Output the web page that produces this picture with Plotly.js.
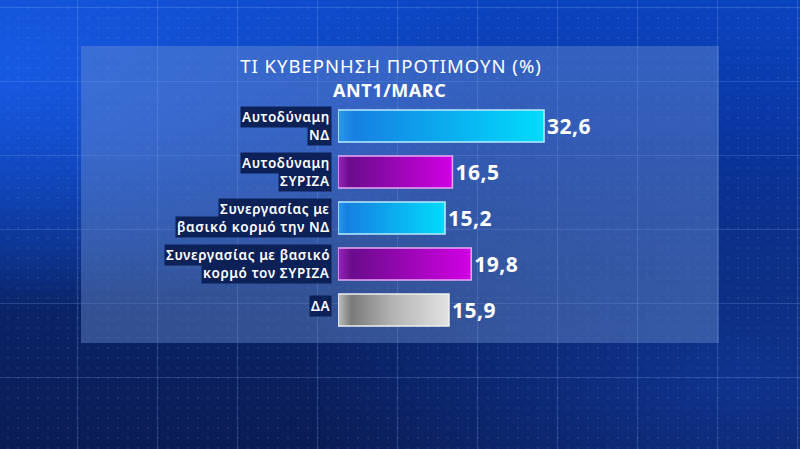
<!DOCTYPE html>
<html>
<head>
<meta charset="utf-8">
<script src="https://cdn.plot.ly/plotly-3.0.1.min.js"></script>
<style>
html,body{margin:0;padding:0;width:800px;height:449px;overflow:hidden;}
body{
  background-color:#0a2a80;
  background-image:
    linear-gradient(90deg, rgba(150,190,255,0.20) 1px, transparent 1px),
    linear-gradient(180deg, rgba(150,190,255,0.20) 1px, transparent 1px),
    radial-gradient(circle, rgba(170,200,255,0.10) 1px, transparent 1.6px),
    radial-gradient(ellipse at 0% 15%, rgba(25,95,235,0.85) 0%, rgba(25,95,235,0) 45%),
    radial-gradient(ellipse at 92% 85%, rgba(20,70,190,0.50) 0%, rgba(20,70,190,0) 42%),
    linear-gradient(180deg, #0b44c0 0%, #0a36a2 30%, #0a2468 68%, #0a1c54 100%);
  background-size: 80px 100%, 100% 74px, 10px 10px, 100% 100%, 100% 100%, 100% 100%;
  background-position: 77px 0, 0 7px, 3px 3px, 0 0, 0 0, 0 0;
}
#chart{width:800px;height:449px;}
.gtitle{letter-spacing:1.0px;}
.annotation-text{letter-spacing:0.6px;}
.bartext{letter-spacing:0.5px;}
</style>
</head>
<body>
<div id="chart"></div>
<script>
// ---- data ----
const categories = [
  "Αυτοδύναμη<br>ΝΔ",
  "Αυτοδύναμη<br>ΣΥΡΙΖΑ",
  "Συνεργασίας με<br>βασικό κορμό την ΝΔ",
  "Συνεργασίας με βασικό<br>κορμό τον ΣΥΡΙΖΑ",
  "ΔΑ"
];
const values = [32.6, 16.5, 15.2, 19.8, 15.9];
const valueLabels = ["32,6", "16,5", "15,2", "19,8", "15,9"];
const colorGroups = ["blue", "purple", "blue", "purple", "gray"];
const chartTitle = "ΤΙ ΚΥΒΕΡΝΗΣΗ ΠΡΟΤΙΜΟΥΝ (%)";
const chartSubtitle = "ANT1/MARC";

// ---- styles ----
const axisStart = -3.6;   // the TV graphic's bars start below zero
const solid = {blue: "#0db0f0", purple: "#a008c0", gray: "#b0b0b0"};
const edge = {blue: "#b8ecff", purple: "#e8a8f4", gray: "#f0f0f0"};
const grads = {
  blue:   [[0, "#2a98e8"], [0.08, "#1680e2"], [1, "#00dcfc"]],
  purple: [[0, "#9a24bc"], [0.1, "#6a0c8c"], [1, "#d200e4"]],
  gray:   [[0, "#c0c0c0"], [0.12, "#7a7a7a"], [0.5, "#b4b4b4"], [1, "#e2e2e2"]]
};
const FONT = "Noto Sans, Open Sans, DejaVu Sans, sans-serif";

const trace = {
  type: "bar",
  orientation: "h",
  y: categories,
  x: values.map(v => v - axisStart),
  base: axisStart,
  text: valueLabels,
  textposition: "outside",
  constraintext: "none",
  cliponaxis: false,
  textfont: {family: FONT, size: 21, color: "#ffffff", weight: 700},
  marker: {
    color: colorGroups.map(g => solid[g]),
    line: {color: colorGroups.map(g => edge[g]), width: 1.5}
  },
  hoverinfo: "skip"
};

const annotations = [];
categories.forEach(cat => {
  const lines = cat.split("<br>");
  const n = lines.length;
  lines.forEach((ln, j) => {
    annotations.push({
      xref: "paper", x: 0, xanchor: "right", xshift: -6,
      yref: "y", y: cat, yanchor: "middle",
      yshift: ((n - 1) / 2 - j) * 17.5 + (n === 1 ? 4 : 0),
      text: ln, showarrow: false,
      bgcolor: "#0c2158", borderpad: 1,
      font: {family: FONT, size: 13.5, color: "#ffffff", weight: 600}
    });
  });
});
annotations.push({
  xref: "paper", x: (389 - 338) / 362, xanchor: "center",
  yref: "paper", y: (333 - 90) / 230, yanchor: "middle",
  text: chartSubtitle, showarrow: false,
  font: {family: FONT, size: 18, color: "#ffffff", weight: 700}
});

const layout = {
  width: 800, height: 449,
  margin: {l: 338, r: 100, t: 103, b: 116},
  paper_bgcolor: "rgba(0,0,0,0)",
  plot_bgcolor: "rgba(0,0,0,0)",
  showlegend: false,
  bargap: 0.3,
  title: {
    text: chartTitle, x: 391 / 800, xanchor: "center",
    y: 1 - 67 / 449, yanchor: "middle",
    font: {family: FONT, size: 18.5, color: "#ffffff", weight: 400}
  },
  xaxis: {range: [axisStart, 60], showgrid: false, zeroline: false, showline: false,
          showticklabels: false, ticks: "", fixedrange: true},
  yaxis: {type: "category", autorange: "reversed", showgrid: false, zeroline: false,
          showline: false, showticklabels: false, ticks: "", fixedrange: true},
  shapes: [{
    type: "rect", xref: "paper", yref: "paper", layer: "below",
    x0: (81 - 338) / 362, x1: (719 - 338) / 362,
    y0: (333 - 343) / 230, y1: (333 - 46) / 230,
    fillcolor: "rgba(110,145,210,0.42)", line: {width: 0}
  }],
  annotations: annotations
};

Plotly.newPlot("chart", [trace], layout, {displayModeBar: false, staticPlot: true}).then(gd => {
  // apply horizontal gradients to the bars Plotly drew
  const svg = gd.querySelector(".main-svg");
  const NS = "http://www.w3.org/2000/svg";
  let defs = svg.querySelector("defs");
  if (!defs) { defs = document.createElementNS(NS, "defs"); svg.insertBefore(defs, svg.firstChild); }
  Object.keys(grads).forEach(k => {
    const lg = document.createElementNS(NS, "linearGradient");
    lg.setAttribute("id", "bargrad-" + k);
    lg.setAttribute("x1", "0"); lg.setAttribute("y1", "0");
    lg.setAttribute("x2", "1"); lg.setAttribute("y2", "0");
    grads[k].forEach(([o, c]) => {
      const st = document.createElementNS(NS, "stop");
      st.setAttribute("offset", o);
      st.setAttribute("stop-color", c);
      lg.appendChild(st);
    });
    defs.appendChild(lg);
  });
  const paths = gd.querySelectorAll(".barlayer .point path");
  paths.forEach((p, i) => {
    p.style.fill = "url(#bargrad-" + colorGroups[i] + ")";
  });
});
</script>
</body>
</html>
